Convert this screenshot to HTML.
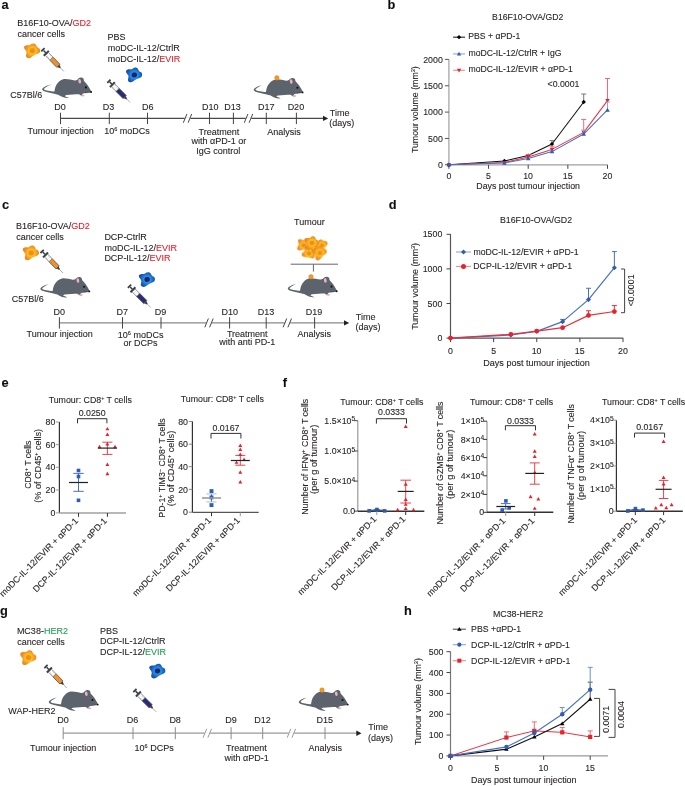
<!DOCTYPE html>
<html><head><meta charset="utf-8"><style>
html,body{margin:0;padding:0;background:#fff;}
svg{display:block;font-family:"Liberation Sans",sans-serif;}
</style></head><body>
<svg width="685" height="786" viewBox="0 0 685 786">
<rect width="685" height="786" fill="#fff"/>

<defs>
<radialGradient id="gOr" gradientUnits="userSpaceOnUse" cx="0" cy="0" r="8.4">
  <stop offset="0" stop-color="#f9c914"/>
  <stop offset="0.42" stop-color="#f8c116"/>
  <stop offset="0.62" stop-color="#f5a522"/>
  <stop offset="0.82" stop-color="#f08b28"/>
  <stop offset="1" stop-color="#ee8229"/>
</radialGradient>
<radialGradient id="gBl" gradientUnits="userSpaceOnUse" cx="0" cy="0" r="8.4">
  <stop offset="0" stop-color="#1e9ce0"/>
  <stop offset="0.42" stop-color="#1d92da"/>
  <stop offset="0.62" stop-color="#1f72cc"/>
  <stop offset="0.82" stop-color="#1e55bc"/>
  <stop offset="1" stop-color="#1d47b4"/>
</radialGradient>
<filter id="soft" x="-20%" y="-20%" width="140%" height="140%"><feGaussianBlur stdDeviation="0.3"/></filter>
<symbol id="mouse" overflow="visible">
  <path d="M0,0 C-1,-2 -3,-6 -5.5,-8.8 C-6.5,-10 -7.4,-10.8 -7.7,-11.3 C-7.6,-13.5 -9,-14.7 -10.7,-14.5 C-12.5,-14.3 -13.5,-13.6 -13.9,-12.6 C-15,-11.8 -16,-11.5 -17,-11.6 C-20,-12.2 -24,-13.3 -27.5,-13 C-32,-12.5 -36.2,-7.5 -36.9,-2 L-37.2,-0.4 C-41,-0.7 -46,-1.3 -47.7,-2.7 C-47.4,-3.9 -44,-6.1 -40,-7.7 C-44.2,-6.6 -49.6,-4.6 -49.4,-2.4 C-49.1,-0.4 -42,0.9 -36.3,2.1 C-35,2.4 -34,2.7 -33,2.9 C-31.5,3.6 -30,4.6 -28.8,5.1 C-27,5.7 -24.5,6.2 -22.5,6.1 C-24,5.3 -26,4.6 -26.8,4.2 C-26.2,3.6 -25.5,3.2 -25.2,3.1 C-21,2.7 -16,2.4 -12.5,2.3 C-11.5,3.1 -10.5,3.9 -9.5,3.6 C-9.5,2.6 -9,1.9 -8.5,1.6 C-6,1.1 -3,0.6 0,0 Z" fill="#5b636d"/>
  <ellipse cx="-11.9" cy="-10.8" rx="1.35" ry="2.3" fill="#f0b2bc" transform="rotate(-10 -11.9 -10.8)"/>
  <circle cx="-5.7" cy="-4.6" r="1.05" fill="#111"/>
  <circle cx="-0.5" cy="0" r="0.95" fill="#111"/>
  <path d="M-6.5,0.8 L-1,0.25" stroke="#2a2e33" stroke-width="0.5"/>
  <ellipse cx="-8.9" cy="3.6" rx="1.8" ry="0.9" fill="#f3a3b2"/>
</symbol>
<symbol id="syr" overflow="visible">
  <rect x="-0.9" y="-2.3" width="1.8" height="4.6" fill="#3a4246"/>
  <rect x="0.9" y="-0.75" width="3.2" height="1.5" fill="#3a4246"/>
  <rect x="3.9" y="-3.5" width="2" height="7" fill="#3a4246"/>
  <rect x="5.9" y="-2.15" width="16.4" height="4.3" fill="#fff" stroke="#4a4f53" stroke-width="0.55"/>
  <path d="M7.8,-2.1v1.3M9.6,-2.1v1.3M11.4,-2.1v1.3M7.8,2.1v-1.3M9.6,2.1v-1.3M11.4,2.1v-1.3" stroke="#8a8a8a" stroke-width="0.45"/>
  <rect x="12.3" y="-2.15" width="10" height="4.3" fill="var(--liq)" stroke="#4a4f53" stroke-width="0.55"/>
  <path d="M22.3,-1.5 L25.2,-0.55 L25.2,0.55 L22.3,1.5 Z" fill="#3a4246"/>
  <line x1="25.2" y1="0" x2="30.1" y2="0" stroke="#6c7176" stroke-width="0.55"/>
</symbol>
<symbol id="cell" overflow="visible">
  <path d="M-8.4,-3.8 C-8.2,-5.6 -5.5,-5.8 -3.5,-5.6 C-2.5,-5.6 -1.8,-6.2 -1.2,-6.8 C0,-7.8 3.2,-7.6 3.8,-5.6 C4.2,-4.4 5,-3.4 6.2,-3 C8,-2.4 8.4,1 6.6,2.2 C5.4,3 4,3.2 2.8,3.8 C1.2,4.6 0,5.6 -1.4,6.6 C-3,7.8 -6.2,7.6 -6.4,5.2 C-6.5,3.6 -5.6,2.4 -6,0.8 C-6.4,-0.6 -8.6,-1.8 -8.4,-3.8 Z" fill="var(--g)"/>
  <path d="M-2.4,-0.3 C-2.4,-2 -0.8,-2.4 0.6,-2.2 C1.8,-2 2.5,-1 2.3,0.2 C2.1,1.5 0.8,2.2 -0.4,2.1 C-1.6,2 -2.4,1.2 -2.4,-0.3 Z" fill="var(--n)" transform="scale(1.15)"/>
</symbol>
</defs>

<filter id="gblur" x="0" y="0" width="100%" height="100%" filterUnits="userSpaceOnUse"><feGaussianBlur stdDeviation="0.35"/></filter>
<g filter="url(#gblur)">
<text x="1.42" y="9.10" font-size="12.800" fill="#111" stroke="#111" stroke-width="0.1" font-weight="bold" >a</text>
<text x="387.57" y="9.10" font-size="12.800" fill="#111" stroke="#111" stroke-width="0.1" font-weight="bold" >b</text>
<text x="1.89" y="209.20" font-size="12.800" fill="#111" stroke="#111" stroke-width="0.1" font-weight="bold" >c</text>
<text x="388.69" y="209.00" font-size="12.800" fill="#111" stroke="#111" stroke-width="0.1" font-weight="bold" >d</text>
<text x="1.49" y="386.80" font-size="12.800" fill="#111" stroke="#111" stroke-width="0.1" font-weight="bold" >e</text>
<text x="282.81" y="387.00" font-size="12.800" fill="#111" stroke="#111" stroke-width="0.1" font-weight="bold" >f</text>
<text x="0.09" y="615.00" font-size="12.800" fill="#111" stroke="#111" stroke-width="0.1" font-weight="bold" >g</text>
<text x="403.90" y="614.60" font-size="12.800" fill="#111" stroke="#111" stroke-width="0.1" font-weight="bold" >h</text>
<line x1="60.50" y1="118.40" x2="324.20" y2="118.40" stroke="#4a4a4a" stroke-width="1.1"/>
<path d="M328.20,118.40L323.00,115.70L323.00,121.10Z" fill="#222"/>
<line x1="60.50" y1="112.70" x2="60.50" y2="124.10" stroke="#444" stroke-width="1"/>
<text x="54.26" y="109.80" font-size="9.000" fill="#231f20" stroke="#231f20" stroke-width="0.1" >D0</text>
<line x1="109.30" y1="112.70" x2="109.30" y2="124.10" stroke="#444" stroke-width="1"/>
<text x="102.68" y="109.80" font-size="9.000" fill="#231f20" stroke="#231f20" stroke-width="0.1" >D3</text>
<line x1="147.50" y1="112.70" x2="147.50" y2="124.10" stroke="#444" stroke-width="1"/>
<text x="142.08" y="109.80" font-size="9.000" fill="#231f20" stroke="#231f20" stroke-width="0.1" >D6</text>
<line x1="209.50" y1="112.70" x2="209.50" y2="124.10" stroke="#444" stroke-width="1"/>
<text x="202.04" y="109.80" font-size="9.000" fill="#231f20" stroke="#231f20" stroke-width="0.1" >D10</text>
<line x1="233.40" y1="112.70" x2="233.40" y2="124.10" stroke="#444" stroke-width="1"/>
<text x="224.26" y="109.80" font-size="9.000" fill="#231f20" stroke="#231f20" stroke-width="0.1" >D13</text>
<line x1="266.30" y1="112.70" x2="266.30" y2="124.10" stroke="#444" stroke-width="1"/>
<text x="258.01" y="109.80" font-size="9.000" fill="#231f20" stroke="#231f20" stroke-width="0.1" >D17</text>
<line x1="296.40" y1="112.70" x2="296.40" y2="124.10" stroke="#444" stroke-width="1"/>
<text x="287.64" y="109.80" font-size="9.000" fill="#231f20" stroke="#231f20" stroke-width="0.1" >D20</text>
<rect x="184.70" y="117.40" width="5.6" height="2" fill="#fff"/>
<line x1="183.30" y1="122.80" x2="186.90" y2="114.00" stroke="#4a4a4a" stroke-width="1.0"/>
<line x1="188.10" y1="122.80" x2="191.70" y2="114.00" stroke="#4a4a4a" stroke-width="1.0"/>
<rect x="245.70" y="117.40" width="5.6" height="2" fill="#fff"/>
<line x1="244.30" y1="122.80" x2="247.90" y2="114.00" stroke="#4a4a4a" stroke-width="1.0"/>
<line x1="249.10" y1="122.80" x2="252.70" y2="114.00" stroke="#4a4a4a" stroke-width="1.0"/>
<text x="17.18" y="26.30" font-size="9.000" fill="#231f20" stroke="#231f20" stroke-width="0.1" >B16F10-OVA/<tspan fill="#e5202e" stroke="#e5202e">GD2</tspan></text>
<text x="17.54" y="36.80" font-size="9.000" fill="#231f20" stroke="#231f20" stroke-width="0.1" >cancer cells</text>
<text x="107.58" y="40.20" font-size="9.000" fill="#231f20" stroke="#231f20" stroke-width="0.1" >PBS</text>
<text x="107.72" y="51.20" font-size="9.000" fill="#231f20" stroke="#231f20" stroke-width="0.1" >moDC-IL-12/CtrlR</text>
<text x="107.72" y="61.90" font-size="9.000" fill="#231f20" stroke="#231f20" stroke-width="0.1" >moDC-IL-12/<tspan fill="#e5202e" stroke="#e5202e">EVIR</tspan></text>
<text x="10.25" y="97.90" font-size="9.000" fill="#231f20" stroke="#231f20" stroke-width="0.1" >C57Bl/6</text>
<text x="27.50" y="134.20" font-size="9.000" fill="#231f20" stroke="#231f20" stroke-width="0.1" >Tumour injection</text>
<text x="104.14" y="134.20" font-size="9.000" fill="#231f20" stroke="#231f20" stroke-width="0.1" >10<tspan font-size="5.6" baseline-shift="3.0">6</tspan> moDCs</text>
<text x="198.62" y="134.50" font-size="9.000" fill="#231f20" stroke="#231f20" stroke-width="0.1" >Treatment</text>
<text x="191.43" y="144.40" font-size="9.000" fill="#231f20" stroke="#231f20" stroke-width="0.1" >with αPD-1 or</text>
<text x="196.28" y="153.60" font-size="9.000" fill="#231f20" stroke="#231f20" stroke-width="0.1" >IgG control</text>
<text x="267.29" y="134.50" font-size="9.000" fill="#231f20" stroke="#231f20" stroke-width="0.1" >Analysis</text>
<text x="329.72" y="115.50" font-size="9.000" fill="#231f20" stroke="#231f20" stroke-width="0.1" >Time</text>
<text x="329.36" y="125.60" font-size="9.000" fill="#231f20" stroke="#231f20" stroke-width="0.1" >(days)</text>
<line x1="59.40" y1="322.90" x2="345.20" y2="322.90" stroke="#8a8a8a" stroke-width="1.3"/>
<path d="M349.20,322.90L344.00,320.20L344.00,325.60Z" fill="#222"/>
<line x1="59.40" y1="317.20" x2="59.40" y2="328.60" stroke="#444" stroke-width="1"/>
<text x="53.46" y="314.50" font-size="9.000" fill="#231f20" stroke="#231f20" stroke-width="0.1" >D0</text>
<line x1="122.50" y1="317.20" x2="122.50" y2="328.60" stroke="#444" stroke-width="1"/>
<text x="116.53" y="314.50" font-size="9.000" fill="#231f20" stroke="#231f20" stroke-width="0.1" >D7</text>
<line x1="161.00" y1="317.20" x2="161.00" y2="328.60" stroke="#444" stroke-width="1"/>
<text x="154.70" y="314.50" font-size="9.000" fill="#231f20" stroke="#231f20" stroke-width="0.1" >D9</text>
<line x1="229.60" y1="317.20" x2="229.60" y2="328.60" stroke="#444" stroke-width="1"/>
<text x="221.54" y="314.50" font-size="9.000" fill="#231f20" stroke="#231f20" stroke-width="0.1" >D10</text>
<line x1="266.20" y1="317.20" x2="266.20" y2="328.60" stroke="#444" stroke-width="1"/>
<text x="257.76" y="314.50" font-size="9.000" fill="#231f20" stroke="#231f20" stroke-width="0.1" >D13</text>
<line x1="314.60" y1="317.20" x2="314.60" y2="328.60" stroke="#444" stroke-width="1"/>
<text x="305.78" y="314.50" font-size="9.000" fill="#231f20" stroke="#231f20" stroke-width="0.1" >D19</text>
<rect x="206.20" y="321.90" width="5.6" height="2" fill="#fff"/>
<line x1="204.80" y1="327.30" x2="208.40" y2="318.50" stroke="#444" stroke-width="1.0"/>
<line x1="209.60" y1="327.30" x2="213.20" y2="318.50" stroke="#444" stroke-width="1.0"/>
<rect x="284.50" y="321.90" width="5.6" height="2" fill="#fff"/>
<line x1="283.10" y1="327.30" x2="286.70" y2="318.50" stroke="#444" stroke-width="1.0"/>
<line x1="287.90" y1="327.30" x2="291.50" y2="318.50" stroke="#444" stroke-width="1.0"/>
<text x="15.88" y="229.00" font-size="9.000" fill="#231f20" stroke="#231f20" stroke-width="0.1" >B16F10-OVA/<tspan fill="#e5202e" stroke="#e5202e">GD2</tspan></text>
<text x="16.24" y="239.50" font-size="9.000" fill="#231f20" stroke="#231f20" stroke-width="0.1" >cancer cells</text>
<text x="104.38" y="239.70" font-size="9.000" fill="#231f20" stroke="#231f20" stroke-width="0.1" >DCP-CtrlR</text>
<text x="104.52" y="250.50" font-size="9.000" fill="#231f20" stroke="#231f20" stroke-width="0.1" >moDC-IL-12/<tspan fill="#e5202e" stroke="#e5202e">EVIR</tspan></text>
<text x="104.38" y="260.90" font-size="9.000" fill="#231f20" stroke="#231f20" stroke-width="0.1" >DCP-IL-12/<tspan fill="#e5202e" stroke="#e5202e">EVIR</tspan></text>
<text x="11.85" y="301.60" font-size="9.000" fill="#231f20" stroke="#231f20" stroke-width="0.1" >C57Bl/6</text>
<text x="26.60" y="337.40" font-size="9.000" fill="#231f20" stroke="#231f20" stroke-width="0.1" >Tumour injection</text>
<text x="117.84" y="337.80" font-size="9.000" fill="#231f20" stroke="#231f20" stroke-width="0.1" >10<tspan font-size="5.6" baseline-shift="3.0">6</tspan> moDCs</text>
<text x="123.47" y="345.50" font-size="9.000" fill="#231f20" stroke="#231f20" stroke-width="0.1" >or DCPs</text>
<text x="226.92" y="337.40" font-size="9.000" fill="#231f20" stroke="#231f20" stroke-width="0.1" >Treatment</text>
<text x="219.19" y="345.30" font-size="9.000" fill="#231f20" stroke="#231f20" stroke-width="0.1" >with anti PD-1</text>
<text x="297.59" y="337.40" font-size="9.000" fill="#231f20" stroke="#231f20" stroke-width="0.1" >Analysis</text>
<text x="294.12" y="225.30" font-size="9.000" fill="#231f20" stroke="#231f20" stroke-width="0.1" >Tumour</text>
<text x="355.82" y="319.70" font-size="9.000" fill="#231f20" stroke="#231f20" stroke-width="0.1" >Time</text>
<text x="355.46" y="329.70" font-size="9.000" fill="#231f20" stroke="#231f20" stroke-width="0.1" >(days)</text>
<line x1="290.70" y1="264.20" x2="338.00" y2="264.20" stroke="#666" stroke-width="1"/>
<line x1="313.40" y1="264.20" x2="313.40" y2="271.60" stroke="#666" stroke-width="1"/>
<line x1="63.20" y1="733.20" x2="357.50" y2="733.20" stroke="#999" stroke-width="1.3"/>
<path d="M361.50,733.20L356.30,730.50L356.30,735.90Z" fill="#222"/>
<line x1="63.20" y1="727.20" x2="63.20" y2="739.20" stroke="#8a8a8a" stroke-width="1"/>
<text x="57.26" y="723.40" font-size="9.000" fill="#231f20" stroke="#231f20" stroke-width="0.1" >D0</text>
<line x1="133.00" y1="727.20" x2="133.00" y2="739.20" stroke="#8a8a8a" stroke-width="1"/>
<text x="126.68" y="723.40" font-size="9.000" fill="#231f20" stroke="#231f20" stroke-width="0.1" >D6</text>
<line x1="175.30" y1="727.20" x2="175.30" y2="739.20" stroke="#8a8a8a" stroke-width="1"/>
<text x="169.38" y="723.40" font-size="9.000" fill="#231f20" stroke="#231f20" stroke-width="0.1" >D8</text>
<line x1="231.10" y1="727.20" x2="231.10" y2="739.20" stroke="#8a8a8a" stroke-width="1"/>
<text x="225.20" y="723.40" font-size="9.000" fill="#231f20" stroke="#231f20" stroke-width="0.1" >D9</text>
<line x1="262.70" y1="727.20" x2="262.70" y2="739.20" stroke="#8a8a8a" stroke-width="1"/>
<text x="254.31" y="723.40" font-size="9.000" fill="#231f20" stroke="#231f20" stroke-width="0.1" >D12</text>
<line x1="325.00" y1="727.20" x2="325.00" y2="739.20" stroke="#8a8a8a" stroke-width="1"/>
<text x="316.56" y="723.40" font-size="9.000" fill="#231f20" stroke="#231f20" stroke-width="0.1" >D15</text>
<rect x="204.50" y="732.20" width="5.6" height="2" fill="#fff"/>
<line x1="203.10" y1="737.60" x2="206.70" y2="728.80" stroke="#999" stroke-width="1.0"/>
<line x1="207.90" y1="737.60" x2="211.50" y2="728.80" stroke="#999" stroke-width="1.0"/>
<rect x="288.60" y="732.20" width="5.6" height="2" fill="#fff"/>
<line x1="287.20" y1="737.60" x2="290.80" y2="728.80" stroke="#999" stroke-width="1.0"/>
<line x1="292.00" y1="737.60" x2="295.60" y2="728.80" stroke="#999" stroke-width="1.0"/>
<text x="16.88" y="633.70" font-size="9.000" fill="#231f20" stroke="#231f20" stroke-width="0.1" >MC38-<tspan fill="#1f9e55" stroke="#1f9e55">HER2</tspan></text>
<text x="17.24" y="644.50" font-size="9.000" fill="#231f20" stroke="#231f20" stroke-width="0.1" >cancer cells</text>
<text x="100.08" y="633.50" font-size="9.000" fill="#231f20" stroke="#231f20" stroke-width="0.1" >PBS</text>
<text x="100.08" y="644.20" font-size="9.000" fill="#231f20" stroke="#231f20" stroke-width="0.1" >DCP-IL-12/CtrlR</text>
<text x="100.08" y="654.50" font-size="9.000" fill="#231f20" stroke="#231f20" stroke-width="0.1" >DCP-IL-12/<tspan fill="#1f9e55" stroke="#1f9e55">EVIR</tspan></text>
<text x="8.26" y="713.90" font-size="9.000" fill="#231f20" stroke="#231f20" stroke-width="0.1" >WAP-HER2</text>
<text x="30.10" y="751.00" font-size="9.000" fill="#231f20" stroke="#231f20" stroke-width="0.1" >Tumour injection</text>
<text x="134.60" y="751.10" font-size="9.000" fill="#231f20" stroke="#231f20" stroke-width="0.1" >10<tspan font-size="5.6" baseline-shift="3.0">6</tspan> DCPs</text>
<text x="226.12" y="751.00" font-size="9.000" fill="#231f20" stroke="#231f20" stroke-width="0.1" >Treatment</text>
<text x="224.61" y="761.40" font-size="9.000" fill="#231f20" stroke="#231f20" stroke-width="0.1" >with αPD-1</text>
<text x="308.39" y="751.00" font-size="9.000" fill="#231f20" stroke="#231f20" stroke-width="0.1" >Analysis</text>
<text x="368.32" y="729.60" font-size="9.000" fill="#231f20" stroke="#231f20" stroke-width="0.1" >Time</text>
<text x="367.96" y="740.60" font-size="9.000" fill="#231f20" stroke="#231f20" stroke-width="0.1" >(days)</text>
<text x="492.11" y="19.90" font-size="8.681" fill="#231f20" stroke="#231f20" stroke-width="0.1" >B16F10-OVA/GD2</text>
<line x1="453.10" y1="37.20" x2="465.00" y2="37.20" stroke="#222" stroke-width="1.1"/>
<path d="M459.05,35.04L461.21,37.20L459.05,39.36L456.89,37.20Z" fill="#000"/>
<text x="468.31" y="39.00" font-size="8.660" fill="#231f20" stroke="#231f20" stroke-width="0.1" >PBS + αPD-1</text>
<line x1="453.10" y1="53.90" x2="465.00" y2="53.90" stroke="#8ea6d8" stroke-width="1.1"/>
<path d="M459.05,51.75L461.19,55.46L456.91,55.46Z" fill="#2d5db3"/>
<text x="468.44" y="55.70" font-size="8.660" fill="#231f20" stroke="#231f20" stroke-width="0.1" >moDC-IL-12/CtrlR + IgG</text>
<line x1="453.10" y1="70.30" x2="465.00" y2="70.30" stroke="#f08a8f" stroke-width="1.1"/>
<path d="M459.05,72.44L461.19,68.74L456.91,68.74Z" fill="#e5202e"/>
<text x="468.44" y="72.10" font-size="8.660" fill="#231f20" stroke="#231f20" stroke-width="0.1" >moDC-IL-12/EVIR + αPD-1</text>
<line x1="448.90" y1="59.40" x2="448.90" y2="164.80" stroke="#a0a0a0" stroke-width="1.2"/>
<line x1="448.90" y1="164.80" x2="607.40" y2="164.80" stroke="#a0a0a0" stroke-width="1.2"/>
<line x1="444.90" y1="164.80" x2="448.90" y2="164.80" stroke="#555" stroke-width="1"/>
<text x="442.80" y="167.90" font-size="8.800" text-anchor="end" fill="#231f20" stroke="#231f20" stroke-width="0.1" >0</text>
<line x1="444.90" y1="138.45" x2="448.90" y2="138.45" stroke="#555" stroke-width="1"/>
<text x="442.80" y="141.55" font-size="8.800" text-anchor="end" fill="#231f20" stroke="#231f20" stroke-width="0.1" >500</text>
<line x1="444.90" y1="112.10" x2="448.90" y2="112.10" stroke="#555" stroke-width="1"/>
<text x="442.80" y="115.20" font-size="8.800" text-anchor="end" fill="#231f20" stroke="#231f20" stroke-width="0.1" >1000</text>
<line x1="444.90" y1="85.75" x2="448.90" y2="85.75" stroke="#555" stroke-width="1"/>
<text x="442.80" y="88.85" font-size="8.800" text-anchor="end" fill="#231f20" stroke="#231f20" stroke-width="0.1" >1500</text>
<line x1="444.90" y1="59.40" x2="448.90" y2="59.40" stroke="#555" stroke-width="1"/>
<text x="442.80" y="62.50" font-size="8.800" text-anchor="end" fill="#231f20" stroke="#231f20" stroke-width="0.1" >2000</text>
<line x1="448.90" y1="164.80" x2="448.90" y2="168.80" stroke="#444" stroke-width="1"/>
<text x="446.44" y="178.60" font-size="8.800" fill="#231f20" stroke="#231f20" stroke-width="0.1" >0</text>
<line x1="488.55" y1="164.80" x2="488.55" y2="168.80" stroke="#444" stroke-width="1"/>
<text x="486.11" y="178.60" font-size="8.800" fill="#231f20" stroke="#231f20" stroke-width="0.1" >5</text>
<line x1="528.20" y1="164.80" x2="528.20" y2="168.80" stroke="#444" stroke-width="1"/>
<text x="523.14" y="178.60" font-size="8.800" fill="#231f20" stroke="#231f20" stroke-width="0.1" >10</text>
<line x1="567.85" y1="164.80" x2="567.85" y2="168.80" stroke="#444" stroke-width="1"/>
<text x="562.81" y="178.60" font-size="8.800" fill="#231f20" stroke="#231f20" stroke-width="0.1" >15</text>
<line x1="607.50" y1="164.80" x2="607.50" y2="168.80" stroke="#444" stroke-width="1"/>
<text x="602.55" y="178.60" font-size="8.800" fill="#231f20" stroke="#231f20" stroke-width="0.1" >20</text>
<line x1="551.99" y1="143.98" x2="551.99" y2="140.61" stroke="#777" stroke-width="1.0"/>
<line x1="549.49" y1="140.61" x2="554.49" y2="140.61" stroke="#777" stroke-width="1.0"/>
<line x1="583.71" y1="101.98" x2="583.71" y2="94.02" stroke="#777" stroke-width="1.0"/>
<line x1="581.21" y1="94.02" x2="586.21" y2="94.02" stroke="#777" stroke-width="1.0"/>
<polyline points="448.90,164.80 504.41,161.01 528.20,155.58 551.99,143.98 583.71,101.98" fill="none" stroke="#111" stroke-width="1.05" stroke-linejoin="round"/>
<path d="M448.90,162.64L451.06,164.80L448.90,166.96L446.74,164.80Z" fill="#000"/>
<path d="M504.41,158.85L506.57,161.01L504.41,163.17L502.25,161.01Z" fill="#000"/>
<path d="M528.20,153.42L530.36,155.58L528.20,157.74L526.04,155.58Z" fill="#000"/>
<path d="M551.99,141.82L554.15,143.98L551.99,146.14L549.83,143.98Z" fill="#000"/>
<path d="M583.71,99.82L585.87,101.98L583.71,104.14L581.55,101.98Z" fill="#000"/>
<line x1="528.20" y1="157.00" x2="528.20" y2="154.58" stroke="#f06a74" stroke-width="1.0"/>
<line x1="525.70" y1="154.58" x2="530.70" y2="154.58" stroke="#f06a74" stroke-width="1.0"/>
<line x1="551.99" y1="149.41" x2="551.99" y2="146.25" stroke="#f06a74" stroke-width="1.0"/>
<line x1="549.49" y1="146.25" x2="554.49" y2="146.25" stroke="#f06a74" stroke-width="1.0"/>
<line x1="583.71" y1="132.39" x2="583.71" y2="119.43" stroke="#f06a74" stroke-width="1.0"/>
<line x1="581.21" y1="119.43" x2="586.21" y2="119.43" stroke="#f06a74" stroke-width="1.0"/>
<line x1="607.50" y1="100.61" x2="607.50" y2="78.48" stroke="#f06a74" stroke-width="1.0"/>
<line x1="605.00" y1="78.48" x2="610.00" y2="78.48" stroke="#f06a74" stroke-width="1.0"/>
<polyline points="448.90,164.80 504.41,162.59 528.20,157.00 551.99,149.41 583.71,132.39 607.50,100.61" fill="none" stroke="#ea3340" stroke-width="1.05" stroke-linejoin="round"/>
<path d="M448.90,167.06L451.15,163.16L446.64,163.16Z" fill="#e5202e"/>
<path d="M504.41,164.84L506.66,160.95L502.15,160.95Z" fill="#e5202e"/>
<path d="M528.20,159.26L530.45,155.36L525.94,155.36Z" fill="#e5202e"/>
<path d="M551.99,151.67L554.25,147.77L549.74,147.77Z" fill="#e5202e"/>
<path d="M583.71,134.64L585.97,130.75L581.46,130.75Z" fill="#e5202e"/>
<path d="M607.50,102.87L609.75,98.97L605.25,98.97Z" fill="#e5202e"/>
<line x1="551.99" y1="151.62" x2="551.99" y2="150.57" stroke="#8fa6da" stroke-width="1.0"/>
<line x1="549.49" y1="150.57" x2="554.49" y2="150.57" stroke="#8fa6da" stroke-width="1.0"/>
<line x1="583.71" y1="134.02" x2="583.71" y2="130.02" stroke="#8fa6da" stroke-width="1.0"/>
<line x1="581.21" y1="130.02" x2="586.21" y2="130.02" stroke="#8fa6da" stroke-width="1.0"/>
<line x1="607.50" y1="109.99" x2="607.50" y2="102.09" stroke="#8fa6da" stroke-width="1.0"/>
<line x1="605.00" y1="102.09" x2="610.00" y2="102.09" stroke="#8fa6da" stroke-width="1.0"/>
<polyline points="448.90,164.80 504.41,163.01 528.20,158.58 551.99,151.62 583.71,134.02 607.50,109.99" fill="none" stroke="#4a6fc0" stroke-width="1.05" stroke-linejoin="round"/>
<path d="M448.90,162.55L451.15,166.44L446.64,166.44Z" fill="#2d5db3"/>
<path d="M504.41,160.75L506.66,164.65L502.15,164.65Z" fill="#2d5db3"/>
<path d="M528.20,156.33L530.45,160.22L525.94,160.22Z" fill="#2d5db3"/>
<path d="M551.99,149.37L554.25,153.26L549.74,153.26Z" fill="#2d5db3"/>
<path d="M583.71,131.77L585.97,135.66L581.46,135.66Z" fill="#2d5db3"/>
<path d="M607.50,107.74L609.75,111.63L605.25,111.63Z" fill="#2d5db3"/>
<text x="476.30" y="189.40" font-size="8.810" fill="#231f20" stroke="#231f20" stroke-width="0.1" >Days post tumour injection</text>
<text transform="translate(418.40,109.65) rotate(-90)" font-size="8.800" text-anchor="middle" fill="#231f20" stroke="#231f20" stroke-width="0.1" >Tumour volume (mm<tspan font-size="5.6" baseline-shift="3.4">3</tspan>)</text>
<text x="547.56" y="87.00" font-size="8.745" fill="#231f20" stroke="#231f20" stroke-width="0.1" >&lt;0.0001</text>
<text x="499.90" y="223.00" font-size="8.800" fill="#231f20" stroke="#231f20" stroke-width="0.1" >B16F10-OVA/GD2</text>
<line x1="456.00" y1="252.00" x2="471.00" y2="252.00" stroke="#8ea6d8" stroke-width="1.1"/>
<path d="M463.50,249.48L466.02,252.00L463.50,254.52L460.98,252.00Z" fill="#2d5db3"/>
<text x="473.43" y="254.60" font-size="8.720" fill="#231f20" stroke="#231f20" stroke-width="0.1" >moDC-IL-12/EVIR + αPD-1</text>
<line x1="456.00" y1="266.40" x2="471.00" y2="266.40" stroke="#f08a8f" stroke-width="1.1"/>
<circle cx="463.50" cy="266.40" r="2.50" fill="#e5202e"/>
<text x="473.30" y="269.00" font-size="8.720" fill="#231f20" stroke="#231f20" stroke-width="0.1" >DCP-IL-12/EVIR + αPD-1</text>
<line x1="450.50" y1="234.10" x2="450.50" y2="338.10" stroke="#555" stroke-width="1.2"/>
<line x1="450.50" y1="338.10" x2="623.20" y2="338.10" stroke="#555" stroke-width="1.2"/>
<line x1="446.50" y1="338.10" x2="450.50" y2="338.10" stroke="#444" stroke-width="1"/>
<text x="442.30" y="341.20" font-size="8.800" text-anchor="end" fill="#231f20" stroke="#231f20" stroke-width="0.1" >0</text>
<line x1="446.50" y1="303.50" x2="450.50" y2="303.50" stroke="#444" stroke-width="1"/>
<text x="442.30" y="306.60" font-size="8.800" text-anchor="end" fill="#231f20" stroke="#231f20" stroke-width="0.1" >500</text>
<line x1="446.50" y1="268.90" x2="450.50" y2="268.90" stroke="#444" stroke-width="1"/>
<text x="442.30" y="272.00" font-size="8.800" text-anchor="end" fill="#231f20" stroke="#231f20" stroke-width="0.1" >1000</text>
<line x1="446.50" y1="234.30" x2="450.50" y2="234.30" stroke="#444" stroke-width="1"/>
<text x="442.30" y="237.40" font-size="8.800" text-anchor="end" fill="#231f20" stroke="#231f20" stroke-width="0.1" >1500</text>
<line x1="450.50" y1="338.10" x2="450.50" y2="342.10" stroke="#444" stroke-width="1"/>
<text x="448.04" y="353.60" font-size="8.800" fill="#231f20" stroke="#231f20" stroke-width="0.1" >0</text>
<line x1="493.62" y1="338.10" x2="493.62" y2="342.10" stroke="#444" stroke-width="1"/>
<text x="491.18" y="353.60" font-size="8.800" fill="#231f20" stroke="#231f20" stroke-width="0.1" >5</text>
<line x1="536.75" y1="338.10" x2="536.75" y2="342.10" stroke="#444" stroke-width="1"/>
<text x="531.69" y="353.60" font-size="8.800" fill="#231f20" stroke="#231f20" stroke-width="0.1" >10</text>
<line x1="579.88" y1="338.10" x2="579.88" y2="342.10" stroke="#444" stroke-width="1"/>
<text x="574.84" y="353.60" font-size="8.800" fill="#231f20" stroke="#231f20" stroke-width="0.1" >15</text>
<line x1="623.00" y1="338.10" x2="623.00" y2="342.10" stroke="#444" stroke-width="1"/>
<text x="618.05" y="353.60" font-size="8.800" fill="#231f20" stroke="#231f20" stroke-width="0.1" >20</text>
<line x1="562.62" y1="321.63" x2="562.62" y2="319.42" stroke="#4a6fc0" stroke-width="1.0"/>
<line x1="560.12" y1="319.42" x2="565.12" y2="319.42" stroke="#4a6fc0" stroke-width="1.0"/>
<line x1="588.50" y1="299.62" x2="588.50" y2="288.28" stroke="#4a6fc0" stroke-width="1.0"/>
<line x1="586.00" y1="288.28" x2="591.00" y2="288.28" stroke="#4a6fc0" stroke-width="1.0"/>
<line x1="614.38" y1="267.72" x2="614.38" y2="251.60" stroke="#4a6fc0" stroke-width="1.0"/>
<line x1="611.88" y1="251.60" x2="616.88" y2="251.60" stroke="#4a6fc0" stroke-width="1.0"/>
<polyline points="450.50,338.10 510.88,334.99 536.75,331.32 562.62,321.63 588.50,299.62 614.38,267.72" fill="none" stroke="#4a6fc0" stroke-width="1.2" stroke-linejoin="round"/>
<path d="M450.50,335.58L453.02,338.10L450.50,340.62L447.98,338.10Z" fill="#2d5db3"/>
<path d="M510.88,332.47L513.39,334.99L510.88,337.51L508.36,334.99Z" fill="#2d5db3"/>
<path d="M536.75,328.80L539.27,331.32L536.75,333.84L534.23,331.32Z" fill="#2d5db3"/>
<path d="M562.62,319.11L565.14,321.63L562.62,324.15L560.11,321.63Z" fill="#2d5db3"/>
<path d="M588.50,297.10L591.02,299.62L588.50,302.14L585.98,299.62Z" fill="#2d5db3"/>
<path d="M614.38,265.20L616.89,267.72L614.38,270.24L611.86,267.72Z" fill="#2d5db3"/>
<line x1="588.50" y1="315.40" x2="588.50" y2="310.77" stroke="#e8303a" stroke-width="1.0"/>
<line x1="586.00" y1="310.77" x2="591.00" y2="310.77" stroke="#e8303a" stroke-width="1.0"/>
<line x1="614.38" y1="311.53" x2="614.38" y2="305.58" stroke="#e8303a" stroke-width="1.0"/>
<line x1="611.88" y1="305.58" x2="616.88" y2="305.58" stroke="#e8303a" stroke-width="1.0"/>
<polyline points="450.50,338.10 510.88,334.29 536.75,331.04 562.62,327.72 588.50,315.40 614.38,311.53" fill="none" stroke="#e8303a" stroke-width="1.2" stroke-linejoin="round"/>
<circle cx="450.50" cy="338.10" r="2.40" fill="#e5202e"/>
<circle cx="510.88" cy="334.29" r="2.40" fill="#e5202e"/>
<circle cx="536.75" cy="331.04" r="2.40" fill="#e5202e"/>
<circle cx="562.62" cy="327.72" r="2.40" fill="#e5202e"/>
<circle cx="588.50" cy="315.40" r="2.40" fill="#e5202e"/>
<circle cx="614.38" cy="311.53" r="2.40" fill="#e5202e"/>
<text x="483.28" y="366.20" font-size="9.050" fill="#231f20" stroke="#231f20" stroke-width="0.1" >Days post tumour injection</text>
<text transform="translate(418.00,286.40) rotate(-90)" font-size="8.800" text-anchor="middle" fill="#231f20" stroke="#231f20" stroke-width="0.1" >Tumour volume (mm<tspan font-size="5.6" baseline-shift="3.4">3</tspan>)</text>
<polyline points="621,269 624.6,269 624.6,312.7 621,312.7" fill="none" stroke="#444" stroke-width="1"/>
<text transform="translate(634.40,290.50) rotate(-90)" font-size="8.800" text-anchor="middle" fill="#231f20" stroke="#231f20" stroke-width="0.1" >&lt;0.0001</text>
<text x="492.89" y="616.60" font-size="8.871" fill="#231f20" stroke="#231f20" stroke-width="0.1" >MC38-HER2</text>
<line x1="452.80" y1="629.20" x2="465.90" y2="629.20" stroke="#555" stroke-width="1.1"/>
<path d="M459.35,627.00L461.55,630.80L457.15,630.80Z" fill="#000"/>
<text x="471.10" y="632.30" font-size="8.750" fill="#231f20" stroke="#231f20" stroke-width="0.1" >PBS +αPD-1</text>
<line x1="452.80" y1="644.70" x2="465.90" y2="644.70" stroke="#8ea6d8" stroke-width="1.1"/>
<circle cx="459.35" cy="644.70" r="2.10" fill="#2d5db3"/>
<text x="471.10" y="647.80" font-size="8.750" fill="#231f20" stroke="#231f20" stroke-width="0.1" >DCP-IL-12/CtrlR + αPD-1</text>
<line x1="452.80" y1="660.70" x2="465.90" y2="660.70" stroke="#f08a8f" stroke-width="1.1"/>
<rect x="457.35" y="658.70" width="4.00" height="4.00" fill="#e5202e"/>
<text x="471.10" y="663.80" font-size="8.750" fill="#231f20" stroke="#231f20" stroke-width="0.1" >DCP-IL-12/EVIR + αPD-1</text>
<line x1="450.50" y1="651.60" x2="450.50" y2="755.90" stroke="#777" stroke-width="1.2"/>
<line x1="450.50" y1="755.90" x2="608.00" y2="755.90" stroke="#999" stroke-width="1.2"/>
<line x1="446.50" y1="755.90" x2="450.50" y2="755.90" stroke="#444" stroke-width="1"/>
<text x="443.50" y="759.00" font-size="8.800" text-anchor="end" fill="#231f20" stroke="#231f20" stroke-width="0.1" >0</text>
<line x1="446.50" y1="735.06" x2="450.50" y2="735.06" stroke="#444" stroke-width="1"/>
<text x="443.50" y="738.16" font-size="8.800" text-anchor="end" fill="#231f20" stroke="#231f20" stroke-width="0.1" >100</text>
<line x1="446.50" y1="714.22" x2="450.50" y2="714.22" stroke="#444" stroke-width="1"/>
<text x="443.50" y="717.32" font-size="8.800" text-anchor="end" fill="#231f20" stroke="#231f20" stroke-width="0.1" >200</text>
<line x1="446.50" y1="693.38" x2="450.50" y2="693.38" stroke="#444" stroke-width="1"/>
<text x="443.50" y="696.48" font-size="8.800" text-anchor="end" fill="#231f20" stroke="#231f20" stroke-width="0.1" >300</text>
<line x1="446.50" y1="672.54" x2="450.50" y2="672.54" stroke="#444" stroke-width="1"/>
<text x="443.50" y="675.64" font-size="8.800" text-anchor="end" fill="#231f20" stroke="#231f20" stroke-width="0.1" >400</text>
<line x1="446.50" y1="651.70" x2="450.50" y2="651.70" stroke="#444" stroke-width="1"/>
<text x="443.50" y="654.80" font-size="8.800" text-anchor="end" fill="#231f20" stroke="#231f20" stroke-width="0.1" >500</text>
<line x1="450.50" y1="755.90" x2="450.50" y2="759.90" stroke="#444" stroke-width="1"/>
<text x="448.04" y="770.60" font-size="8.800" fill="#231f20" stroke="#231f20" stroke-width="0.1" >0</text>
<line x1="497.06" y1="755.90" x2="497.06" y2="759.90" stroke="#444" stroke-width="1"/>
<text x="494.62" y="770.60" font-size="8.800" fill="#231f20" stroke="#231f20" stroke-width="0.1" >5</text>
<line x1="543.63" y1="755.90" x2="543.63" y2="759.90" stroke="#444" stroke-width="1"/>
<text x="538.57" y="770.60" font-size="8.800" fill="#231f20" stroke="#231f20" stroke-width="0.1" >10</text>
<line x1="590.20" y1="755.90" x2="590.20" y2="759.90" stroke="#444" stroke-width="1"/>
<text x="585.16" y="770.60" font-size="8.800" fill="#231f20" stroke="#231f20" stroke-width="0.1" >15</text>
<line x1="506.38" y1="737.56" x2="506.38" y2="731.93" stroke="#f06a74" stroke-width="1.0"/>
<line x1="503.88" y1="731.93" x2="508.88" y2="731.93" stroke="#f06a74" stroke-width="1.0"/>
<line x1="534.32" y1="730.89" x2="534.32" y2="721.93" stroke="#f06a74" stroke-width="1.0"/>
<line x1="531.82" y1="721.93" x2="536.82" y2="721.93" stroke="#f06a74" stroke-width="1.0"/>
<line x1="562.26" y1="732.35" x2="562.26" y2="727.56" stroke="#f06a74" stroke-width="1.0"/>
<line x1="559.76" y1="727.56" x2="564.76" y2="727.56" stroke="#f06a74" stroke-width="1.0"/>
<line x1="590.20" y1="736.94" x2="590.20" y2="730.89" stroke="#f06a74" stroke-width="1.0"/>
<line x1="587.70" y1="730.89" x2="592.70" y2="730.89" stroke="#f06a74" stroke-width="1.0"/>
<polyline points="450.50,755.90 506.38,737.56 534.32,730.89 562.26,732.35 590.20,736.94" fill="none" stroke="#ea3340" stroke-width="1.0" stroke-linejoin="round"/>
<rect x="448.40" y="753.80" width="4.20" height="4.20" fill="#e5202e"/>
<rect x="504.28" y="735.46" width="4.20" height="4.20" fill="#e5202e"/>
<rect x="532.22" y="728.79" width="4.20" height="4.20" fill="#e5202e"/>
<rect x="560.16" y="730.25" width="4.20" height="4.20" fill="#e5202e"/>
<rect x="588.10" y="734.84" width="4.20" height="4.20" fill="#e5202e"/>
<line x1="590.20" y1="699.22" x2="590.20" y2="682.13" stroke="#555" stroke-width="1.0"/>
<line x1="587.70" y1="682.13" x2="592.70" y2="682.13" stroke="#555" stroke-width="1.0"/>
<polyline points="450.50,755.90 506.38,749.23 534.32,736.94 562.26,723.60 590.20,699.22" fill="none" stroke="#111" stroke-width="1.1" stroke-linejoin="round"/>
<path d="M450.50,753.70L452.70,757.50L448.30,757.50Z" fill="#000"/>
<path d="M506.38,747.03L508.58,750.83L504.18,750.83Z" fill="#000"/>
<path d="M534.32,734.74L536.52,738.54L532.12,738.54Z" fill="#000"/>
<path d="M562.26,721.40L564.46,725.20L560.06,725.20Z" fill="#000"/>
<path d="M590.20,697.02L592.40,700.82L588.00,700.82Z" fill="#000"/>
<line x1="562.26" y1="714.22" x2="562.26" y2="707.55" stroke="#6f8ed0" stroke-width="1.0"/>
<line x1="559.76" y1="707.55" x2="564.76" y2="707.55" stroke="#6f8ed0" stroke-width="1.0"/>
<line x1="590.20" y1="689.63" x2="590.20" y2="667.33" stroke="#6f8ed0" stroke-width="1.0"/>
<line x1="587.70" y1="667.33" x2="592.70" y2="667.33" stroke="#6f8ed0" stroke-width="1.0"/>
<polyline points="450.50,755.90 506.38,746.94 534.32,732.98 562.26,714.22 590.20,689.63" fill="none" stroke="#4a6fc0" stroke-width="1.1" stroke-linejoin="round"/>
<circle cx="450.50" cy="755.90" r="2.20" fill="#2d5db3"/>
<circle cx="506.38" cy="746.94" r="2.20" fill="#2d5db3"/>
<circle cx="534.32" cy="732.98" r="2.20" fill="#2d5db3"/>
<circle cx="562.26" cy="714.22" r="2.20" fill="#2d5db3"/>
<circle cx="590.20" cy="689.63" r="2.20" fill="#2d5db3"/>
<text x="471.08" y="783.30" font-size="8.964" fill="#231f20" stroke="#231f20" stroke-width="0.1" >Days post tumour injection</text>
<text transform="translate(421.00,701.50) rotate(-90)" font-size="8.800" text-anchor="middle" fill="#231f20" stroke="#231f20" stroke-width="0.1" >Tumour volume (mm<tspan font-size="5.6" baseline-shift="3.4">3</tspan>)</text>
<polyline points="594,698.4 599.6,698.4 599.6,736.4 594,736.4" fill="none" stroke="#444" stroke-width="1"/>
<text transform="translate(609.20,719.30) rotate(-90)" font-size="8.800" text-anchor="middle" fill="#231f20" stroke="#231f20" stroke-width="0.1" >0.0071</text>
<polyline points="608.6,689.4 615,689.4 615,737.4 608.6,737.4" fill="none" stroke="#444" stroke-width="1"/>
<text transform="translate(624.00,714.50) rotate(-90)" font-size="8.800" text-anchor="middle" fill="#231f20" stroke="#231f20" stroke-width="0.1" >0.0004</text>
<line x1="59.40" y1="421.90" x2="59.40" y2="513.00" stroke="#333" stroke-width="1.2"/>
<line x1="59.40" y1="513.00" x2="126.00" y2="513.00" stroke="#a0a0a0" stroke-width="1.4"/>
<line x1="55.80" y1="422.00" x2="59.40" y2="422.00" stroke="#999" stroke-width="1"/>
<text x="55.30" y="425.10" font-size="8.800" text-anchor="end" fill="#231f20" stroke="#231f20" stroke-width="0.1" >80</text>
<line x1="55.80" y1="444.60" x2="59.40" y2="444.60" stroke="#999" stroke-width="1"/>
<text x="55.30" y="447.70" font-size="8.800" text-anchor="end" fill="#231f20" stroke="#231f20" stroke-width="0.1" >60</text>
<line x1="55.80" y1="467.30" x2="59.40" y2="467.30" stroke="#999" stroke-width="1"/>
<text x="55.30" y="470.40" font-size="8.800" text-anchor="end" fill="#231f20" stroke="#231f20" stroke-width="0.1" >40</text>
<line x1="55.80" y1="490.00" x2="59.40" y2="490.00" stroke="#999" stroke-width="1"/>
<text x="55.30" y="493.10" font-size="8.800" text-anchor="end" fill="#231f20" stroke="#231f20" stroke-width="0.1" >20</text>
<line x1="55.80" y1="512.90" x2="59.40" y2="512.90" stroke="#999" stroke-width="1"/>
<text x="55.30" y="516.00" font-size="8.800" text-anchor="end" fill="#231f20" stroke="#231f20" stroke-width="0.1" >0</text>
<line x1="78.50" y1="513.00" x2="78.50" y2="516.80" stroke="#333" stroke-width="1"/>
<line x1="107.40" y1="513.00" x2="107.40" y2="516.80" stroke="#333" stroke-width="1"/>
<text transform="translate(78.70,521.60) rotate(-45)" font-size="8.900" text-anchor="end" fill="#231f20" stroke="#231f20" stroke-width="0.1" >moDC-IL-12/EVIR + αPD-1</text>
<text transform="translate(107.60,521.60) rotate(-45)" font-size="8.900" text-anchor="end" fill="#231f20" stroke="#231f20" stroke-width="0.1" >DCP-IL-12/EVIR + αPD-1</text>
<line x1="78.50" y1="473.40" x2="78.50" y2="491.30" stroke="#4a6fc0" stroke-width="1"/>
<line x1="73.30" y1="473.40" x2="83.70" y2="473.40" stroke="#4a6fc0" stroke-width="1"/>
<line x1="73.30" y1="491.30" x2="83.70" y2="491.30" stroke="#4a6fc0" stroke-width="1"/>
<rect x="76.70" y="468.70" width="3.60" height="3.60" fill="#2d5db3"/>
<rect x="76.70" y="474.70" width="3.60" height="3.60" fill="#2d5db3"/>
<rect x="76.70" y="498.50" width="3.60" height="3.60" fill="#2d5db3"/>
<line x1="69.00" y1="482.50" x2="88.00" y2="482.50" stroke="#222" stroke-width="1.2"/>
<line x1="107.40" y1="442.20" x2="107.40" y2="454.40" stroke="#ec4048" stroke-width="1"/>
<line x1="102.40" y1="442.20" x2="112.40" y2="442.20" stroke="#ec4048" stroke-width="1"/>
<line x1="102.40" y1="454.40" x2="112.40" y2="454.40" stroke="#ec4048" stroke-width="1"/>
<path d="M107.40,426.92L109.38,430.34L105.42,430.34Z" fill="#e5202e"/>
<path d="M107.40,432.52L109.38,435.94L105.42,435.94Z" fill="#e5202e"/>
<path d="M107.40,442.02L109.38,445.44L105.42,445.44Z" fill="#e5202e"/>
<path d="M99.50,444.72L101.48,448.14L97.52,448.14Z" fill="#e5202e"/>
<path d="M115.00,444.72L116.98,448.14L113.02,448.14Z" fill="#e5202e"/>
<path d="M107.40,462.62L109.38,466.04L105.42,466.04Z" fill="#e5202e"/>
<path d="M107.40,471.72L109.38,475.14L105.42,475.14Z" fill="#e5202e"/>
<line x1="97.90" y1="448.10" x2="116.90" y2="448.10" stroke="#222" stroke-width="1.2"/>
<polyline points="77.50,423.30 77.50,418.70 106.90,418.70 106.90,423.30" fill="none" stroke="#333" stroke-width="1"/>
<text x="78.71" y="415.60" font-size="8.800" fill="#231f20" stroke="#231f20" stroke-width="0.1" >0.0250</text>
<text x="48.67" y="402.70" font-size="8.800" fill="#231f20" stroke="#231f20" stroke-width="0.1" >Tumour: CD8<tspan font-size="5.4" baseline-shift="3.4">+</tspan> T cells</text>
<text transform="translate(30.60,464.70) rotate(-90)" font-size="8.800" text-anchor="middle" fill="#231f20" stroke="#231f20" stroke-width="0.1" >CD8<tspan font-size="5.4" baseline-shift="3.4">+</tspan> T cells</text>
<text transform="translate(40.90,465.80) rotate(-90)" font-size="9.100" text-anchor="middle" fill="#231f20" stroke="#231f20" stroke-width="0.1" >(% of CD45<tspan font-size="5.4" baseline-shift="3.4">+</tspan> cells)</text>
<line x1="192.40" y1="421.20" x2="192.40" y2="512.40" stroke="#333" stroke-width="1.2"/>
<line x1="192.40" y1="512.40" x2="258.70" y2="512.40" stroke="#555" stroke-width="1.4"/>
<line x1="188.80" y1="421.50" x2="192.40" y2="421.50" stroke="#888" stroke-width="1"/>
<text x="188.00" y="424.60" font-size="8.800" text-anchor="end" fill="#231f20" stroke="#231f20" stroke-width="0.1" >80</text>
<line x1="188.80" y1="444.20" x2="192.40" y2="444.20" stroke="#888" stroke-width="1"/>
<text x="188.00" y="447.30" font-size="8.800" text-anchor="end" fill="#231f20" stroke="#231f20" stroke-width="0.1" >60</text>
<line x1="188.80" y1="466.70" x2="192.40" y2="466.70" stroke="#888" stroke-width="1"/>
<text x="188.00" y="469.80" font-size="8.800" text-anchor="end" fill="#231f20" stroke="#231f20" stroke-width="0.1" >40</text>
<line x1="188.80" y1="489.40" x2="192.40" y2="489.40" stroke="#888" stroke-width="1"/>
<text x="188.00" y="492.50" font-size="8.800" text-anchor="end" fill="#231f20" stroke="#231f20" stroke-width="0.1" >20</text>
<line x1="188.80" y1="512.20" x2="192.40" y2="512.20" stroke="#888" stroke-width="1"/>
<text x="188.00" y="515.30" font-size="8.800" text-anchor="end" fill="#231f20" stroke="#231f20" stroke-width="0.1" >0</text>
<line x1="211.50" y1="512.40" x2="211.50" y2="516.20" stroke="#333" stroke-width="1"/>
<line x1="240.30" y1="512.40" x2="240.30" y2="516.20" stroke="#999" stroke-width="1"/>
<text transform="translate(211.70,521.00) rotate(-45)" font-size="8.900" text-anchor="end" fill="#231f20" stroke="#231f20" stroke-width="0.1" >moDC-IL-12/EVIR + αPD-1</text>
<text transform="translate(240.50,521.00) rotate(-45)" font-size="8.900" text-anchor="end" fill="#231f20" stroke="#231f20" stroke-width="0.1" >DCP-IL-12/EVIR + αPD-1</text>
<line x1="211.50" y1="493.90" x2="211.50" y2="501.90" stroke="#4a6fc0" stroke-width="1"/>
<line x1="206.40" y1="493.90" x2="216.60" y2="493.90" stroke="#a8bce6" stroke-width="1"/>
<line x1="206.40" y1="501.90" x2="216.60" y2="501.90" stroke="#a8bce6" stroke-width="1"/>
<rect x="209.55" y="489.15" width="3.90" height="3.90" fill="#2d5db3"/>
<rect x="209.55" y="495.45" width="3.90" height="3.90" fill="#2d5db3"/>
<rect x="209.55" y="503.15" width="3.90" height="3.90" fill="#2d5db3"/>
<line x1="202.00" y1="498.00" x2="221.00" y2="498.00" stroke="#9a9a9a" stroke-width="1.6"/>
<line x1="240.30" y1="455.40" x2="240.30" y2="465.20" stroke="#ec4048" stroke-width="1"/>
<line x1="235.30" y1="455.40" x2="245.30" y2="455.40" stroke="#ec4048" stroke-width="1"/>
<line x1="235.30" y1="465.20" x2="245.30" y2="465.20" stroke="#ec4048" stroke-width="1"/>
<path d="M240.30,443.52L242.28,446.94L238.32,446.94Z" fill="#e5202e"/>
<path d="M240.30,447.52L242.28,450.94L238.32,450.94Z" fill="#e5202e"/>
<path d="M240.30,452.62L242.28,456.04L238.32,456.04Z" fill="#e5202e"/>
<path d="M236.50,460.42L238.48,463.84L234.52,463.84Z" fill="#e5202e"/>
<path d="M244.10,457.52L246.08,460.94L242.12,460.94Z" fill="#e5202e"/>
<path d="M240.30,470.22L242.28,473.64L238.32,473.64Z" fill="#e5202e"/>
<path d="M240.30,480.12L242.28,483.54L238.32,483.54Z" fill="#e5202e"/>
<line x1="230.80" y1="460.50" x2="249.80" y2="460.50" stroke="#222" stroke-width="1.2"/>
<polyline points="211.00,438.50 211.00,433.40 240.90,433.40 240.90,438.50" fill="none" stroke="#333" stroke-width="1"/>
<text x="212.53" y="430.60" font-size="8.800" fill="#231f20" stroke="#231f20" stroke-width="0.1" >0.0167</text>
<text x="180.77" y="402.20" font-size="8.800" fill="#231f20" stroke="#231f20" stroke-width="0.1" >Tumour: CD8<tspan font-size="5.4" baseline-shift="3.4">+</tspan> T cells</text>
<text transform="translate(164.50,468.00) rotate(-90)" font-size="8.800" text-anchor="middle" fill="#231f20" stroke="#231f20" stroke-width="0.1" >PD-1<tspan font-size="5.4" baseline-shift="3.4">+</tspan> TIM3<tspan font-size="5.4" baseline-shift="3.4">−</tspan> CD8<tspan font-size="5.4" baseline-shift="3.4">+</tspan> T cells</text>
<text transform="translate(173.80,468.40) rotate(-90)" font-size="9.300" text-anchor="middle" fill="#231f20" stroke="#231f20" stroke-width="0.1" >(% of CD45<tspan font-size="5.4" baseline-shift="3.4">+</tspan> cells)</text>
<line x1="357.80" y1="420.70" x2="357.80" y2="511.20" stroke="#999" stroke-width="1.2"/>
<line x1="357.80" y1="511.20" x2="424.30" y2="511.20" stroke="#333" stroke-width="1.4"/>
<line x1="354.20" y1="420.70" x2="357.80" y2="420.70" stroke="#444" stroke-width="1"/>
<text x="355.20" y="423.80" font-size="8.800" text-anchor="end" fill="#231f20" stroke="#231f20" stroke-width="0.1" >1.5×10<tspan dy="-2.6" font-size="6.6">5</tspan></text>
<line x1="354.20" y1="451.00" x2="357.80" y2="451.00" stroke="#444" stroke-width="1"/>
<text x="355.20" y="454.10" font-size="8.800" text-anchor="end" fill="#231f20" stroke="#231f20" stroke-width="0.1" >1.0×10<tspan dy="-2.6" font-size="6.6">5</tspan></text>
<line x1="354.20" y1="481.10" x2="357.80" y2="481.10" stroke="#444" stroke-width="1"/>
<text x="355.20" y="484.20" font-size="8.800" text-anchor="end" fill="#231f20" stroke="#231f20" stroke-width="0.1" >5.0×10<tspan dy="-2.6" font-size="6.6">4</tspan></text>
<line x1="354.20" y1="511.10" x2="357.80" y2="511.10" stroke="#444" stroke-width="1"/>
<text x="355.20" y="514.20" font-size="8.800" text-anchor="end" fill="#231f20" stroke="#231f20" stroke-width="0.1" >0.0</text>
<line x1="376.80" y1="511.20" x2="376.80" y2="515.00" stroke="#999" stroke-width="1"/>
<line x1="405.70" y1="511.20" x2="405.70" y2="515.00" stroke="#333" stroke-width="1"/>
<text transform="translate(377.00,519.80) rotate(-45)" font-size="8.900" text-anchor="end" fill="#231f20" stroke="#231f20" stroke-width="0.1" >moDC-IL-12/EVIR + αPD-1</text>
<text transform="translate(405.90,519.80) rotate(-45)" font-size="8.900" text-anchor="end" fill="#231f20" stroke="#231f20" stroke-width="0.1" >DCP-IL-12/EVIR + αPD-1</text>
<line x1="376.80" y1="509.60" x2="376.80" y2="510.80" stroke="#4a6fc0" stroke-width="1"/>
<line x1="373.80" y1="509.60" x2="379.80" y2="509.60" stroke="#4a6fc0" stroke-width="1"/>
<line x1="373.80" y1="510.80" x2="379.80" y2="510.80" stroke="#4a6fc0" stroke-width="1"/>
<rect x="367.30" y="509.10" width="3.60" height="3.60" fill="#2d5db3"/>
<rect x="375.10" y="507.70" width="3.60" height="3.60" fill="#2d5db3"/>
<rect x="382.90" y="509.10" width="3.60" height="3.60" fill="#2d5db3"/>
<line x1="368.80" y1="510.20" x2="384.80" y2="510.20" stroke="#2d4f9a" stroke-width="1.2"/>
<line x1="405.70" y1="480.20" x2="405.70" y2="503.00" stroke="#ec4048" stroke-width="1"/>
<line x1="400.40" y1="480.20" x2="411.00" y2="480.20" stroke="#ec4048" stroke-width="1"/>
<line x1="400.40" y1="503.00" x2="411.00" y2="503.00" stroke="#ec4048" stroke-width="1"/>
<path d="M405.70,424.52L407.68,427.94L403.72,427.94Z" fill="#e5202e"/>
<path d="M405.70,482.22L407.68,485.64L403.72,485.64Z" fill="#e5202e"/>
<path d="M405.70,497.52L407.68,500.94L403.72,500.94Z" fill="#e5202e"/>
<path d="M405.70,502.42L407.68,505.84L403.72,505.84Z" fill="#e5202e"/>
<path d="M397.70,507.82L399.68,511.24L395.72,511.24Z" fill="#e5202e"/>
<path d="M405.70,506.62L407.68,510.04L403.72,510.04Z" fill="#e5202e"/>
<path d="M413.50,507.82L415.48,511.24L411.52,511.24Z" fill="#e5202e"/>
<line x1="397.70" y1="491.40" x2="413.70" y2="491.40" stroke="#222" stroke-width="1.2"/>
<polyline points="376.40,423.60 376.40,418.70 406.50,418.70 406.50,423.60" fill="none" stroke="#333" stroke-width="1"/>
<text x="377.99" y="415.40" font-size="8.800" fill="#231f20" stroke="#231f20" stroke-width="0.1" >0.0333</text>
<text x="340.27" y="404.50" font-size="8.800" fill="#231f20" stroke="#231f20" stroke-width="0.1" >Tumour: CD8<tspan font-size="5.4" baseline-shift="3.4">+</tspan> T cells</text>
<text transform="translate(307.90,456.80) rotate(-90)" font-size="8.800" text-anchor="middle" fill="#231f20" stroke="#231f20" stroke-width="0.1" >Number of IFNγ<tspan font-size="5.4" baseline-shift="3.4">+</tspan> CD8<tspan font-size="5.4" baseline-shift="3.4">+</tspan> T cells</text>
<text transform="translate(317.20,459.30) rotate(-90)" font-size="9.300" text-anchor="middle" fill="#231f20" stroke="#231f20" stroke-width="0.1" >(per g of tumour)</text>
<line x1="487.00" y1="421.20" x2="487.00" y2="512.20" stroke="#999" stroke-width="1.2"/>
<line x1="487.00" y1="512.20" x2="553.30" y2="512.20" stroke="#333" stroke-width="1.4"/>
<line x1="483.40" y1="421.20" x2="487.00" y2="421.20" stroke="#333" stroke-width="1"/>
<text x="484.20" y="424.30" font-size="8.800" text-anchor="end" fill="#231f20" stroke="#231f20" stroke-width="0.1" >1×10<tspan dy="-2.6" font-size="6.6">5</tspan></text>
<line x1="483.40" y1="439.40" x2="487.00" y2="439.40" stroke="#333" stroke-width="1"/>
<text x="484.20" y="442.50" font-size="8.800" text-anchor="end" fill="#231f20" stroke="#231f20" stroke-width="0.1" >8×10<tspan dy="-2.6" font-size="6.6">4</tspan></text>
<line x1="483.40" y1="457.60" x2="487.00" y2="457.60" stroke="#333" stroke-width="1"/>
<text x="484.20" y="460.70" font-size="8.800" text-anchor="end" fill="#231f20" stroke="#231f20" stroke-width="0.1" >6×10<tspan dy="-2.6" font-size="6.6">4</tspan></text>
<line x1="483.40" y1="475.80" x2="487.00" y2="475.80" stroke="#333" stroke-width="1"/>
<text x="484.20" y="478.90" font-size="8.800" text-anchor="end" fill="#231f20" stroke="#231f20" stroke-width="0.1" >4×10<tspan dy="-2.6" font-size="6.6">4</tspan></text>
<line x1="483.40" y1="494.40" x2="487.00" y2="494.40" stroke="#333" stroke-width="1"/>
<text x="484.20" y="497.50" font-size="8.800" text-anchor="end" fill="#231f20" stroke="#231f20" stroke-width="0.1" >2×10<tspan dy="-2.6" font-size="6.6">4</tspan></text>
<line x1="483.40" y1="512.30" x2="487.00" y2="512.30" stroke="#333" stroke-width="1"/>
<text x="484.20" y="515.40" font-size="8.800" text-anchor="end" fill="#231f20" stroke="#231f20" stroke-width="0.1" >0</text>
<line x1="505.70" y1="512.20" x2="505.70" y2="516.00" stroke="#999" stroke-width="1"/>
<line x1="534.70" y1="512.20" x2="534.70" y2="516.00" stroke="#333" stroke-width="1"/>
<text transform="translate(505.90,521.40) rotate(-45)" font-size="8.900" text-anchor="end" fill="#231f20" stroke="#231f20" stroke-width="0.1" >moDC-IL-12/EVIR + αPD-1</text>
<text transform="translate(534.90,521.40) rotate(-45)" font-size="8.900" text-anchor="end" fill="#231f20" stroke="#231f20" stroke-width="0.1" >DCP-IL-12/EVIR + αPD-1</text>
<line x1="505.70" y1="503.60" x2="505.70" y2="509.00" stroke="#4a6fc0" stroke-width="1"/>
<line x1="500.90" y1="503.60" x2="510.50" y2="503.60" stroke="#4a6fc0" stroke-width="1"/>
<line x1="500.90" y1="509.00" x2="510.50" y2="509.00" stroke="#4a6fc0" stroke-width="1"/>
<rect x="504.10" y="499.10" width="3.60" height="3.60" fill="#2d5db3"/>
<rect x="507.40" y="506.00" width="3.60" height="3.60" fill="#2d5db3"/>
<rect x="500.40" y="508.40" width="3.60" height="3.60" fill="#2d5db3"/>
<line x1="496.30" y1="506.50" x2="515.10" y2="506.50" stroke="#222" stroke-width="1.2"/>
<line x1="534.70" y1="462.90" x2="534.70" y2="484.20" stroke="#ec4048" stroke-width="1"/>
<line x1="529.70" y1="462.90" x2="539.70" y2="462.90" stroke="#ec4048" stroke-width="1"/>
<line x1="529.70" y1="484.20" x2="539.70" y2="484.20" stroke="#ec4048" stroke-width="1"/>
<path d="M534.70,432.12L536.68,435.54L532.72,435.54Z" fill="#e5202e"/>
<path d="M534.70,449.32L536.68,452.74L532.72,452.74Z" fill="#e5202e"/>
<path d="M534.70,454.62L536.68,458.04L532.72,458.04Z" fill="#e5202e"/>
<path d="M534.70,470.52L536.68,473.94L532.72,473.94Z" fill="#e5202e"/>
<path d="M530.60,494.82L532.58,498.24L528.62,498.24Z" fill="#e5202e"/>
<path d="M538.30,497.12L540.28,500.54L536.32,500.54Z" fill="#e5202e"/>
<path d="M534.70,506.42L536.68,509.84L532.72,509.84Z" fill="#e5202e"/>
<line x1="525.30" y1="473.40" x2="544.10" y2="473.40" stroke="#222" stroke-width="1.2"/>
<polyline points="505.40,430.30 505.40,425.70 535.50,425.70 535.50,430.30" fill="none" stroke="#333" stroke-width="1"/>
<text x="506.99" y="423.60" font-size="8.800" fill="#231f20" stroke="#231f20" stroke-width="0.1" >0.0333</text>
<text x="469.97" y="404.50" font-size="8.800" fill="#231f20" stroke="#231f20" stroke-width="0.1" >Tumour: CD8<tspan font-size="5.4" baseline-shift="3.4">+</tspan> T cells</text>
<text transform="translate(443.40,463.00) rotate(-90)" font-size="8.800" text-anchor="middle" fill="#231f20" stroke="#231f20" stroke-width="0.1" >Number of GZMB<tspan font-size="5.4" baseline-shift="3.4">+</tspan> CD8<tspan font-size="5.4" baseline-shift="3.4">+</tspan> T cells</text>
<text transform="translate(453.30,464.30) rotate(-90)" font-size="9.300" text-anchor="middle" fill="#231f20" stroke="#231f20" stroke-width="0.1" >(per g of tumour)</text>
<line x1="616.40" y1="420.20" x2="616.40" y2="511.30" stroke="#333" stroke-width="1.2"/>
<line x1="616.40" y1="511.30" x2="682.80" y2="511.30" stroke="#333" stroke-width="1.4"/>
<line x1="612.80" y1="420.20" x2="616.40" y2="420.20" stroke="#999" stroke-width="1"/>
<text x="613.60" y="423.30" font-size="8.800" text-anchor="end" fill="#231f20" stroke="#231f20" stroke-width="0.1" >4×10<tspan dy="-2.6" font-size="6.6">5</tspan></text>
<line x1="612.80" y1="443.30" x2="616.40" y2="443.30" stroke="#999" stroke-width="1"/>
<text x="613.60" y="446.40" font-size="8.800" text-anchor="end" fill="#231f20" stroke="#231f20" stroke-width="0.1" >3×10<tspan dy="-2.6" font-size="6.6">5</tspan></text>
<line x1="612.80" y1="466.00" x2="616.40" y2="466.00" stroke="#999" stroke-width="1"/>
<text x="613.60" y="469.10" font-size="8.800" text-anchor="end" fill="#231f20" stroke="#231f20" stroke-width="0.1" >2×10<tspan dy="-2.6" font-size="6.6">5</tspan></text>
<line x1="612.80" y1="488.60" x2="616.40" y2="488.60" stroke="#999" stroke-width="1"/>
<text x="613.60" y="491.70" font-size="8.800" text-anchor="end" fill="#231f20" stroke="#231f20" stroke-width="0.1" >1×10<tspan dy="-2.6" font-size="6.6">5</tspan></text>
<line x1="612.80" y1="511.20" x2="616.40" y2="511.20" stroke="#999" stroke-width="1"/>
<text x="613.60" y="514.30" font-size="8.800" text-anchor="end" fill="#231f20" stroke="#231f20" stroke-width="0.1" >0</text>
<line x1="635.30" y1="511.30" x2="635.30" y2="515.10" stroke="#333" stroke-width="1"/>
<line x1="663.60" y1="511.30" x2="663.60" y2="515.10" stroke="#333" stroke-width="1"/>
<text transform="translate(637.70,520.70) rotate(-45)" font-size="8.900" text-anchor="end" fill="#231f20" stroke="#231f20" stroke-width="0.1" >moDC-IL-12/EVIR + αPD-1</text>
<text transform="translate(666.00,520.70) rotate(-45)" font-size="8.900" text-anchor="end" fill="#231f20" stroke="#231f20" stroke-width="0.1" >DCP-IL-12/EVIR + αPD-1</text>
<line x1="635.30" y1="509.40" x2="635.30" y2="510.60" stroke="#4a6fc0" stroke-width="1"/>
<line x1="632.30" y1="509.40" x2="638.30" y2="509.40" stroke="#4a6fc0" stroke-width="1"/>
<line x1="632.30" y1="510.60" x2="638.30" y2="510.60" stroke="#4a6fc0" stroke-width="1"/>
<rect x="626.00" y="509.20" width="3.60" height="3.60" fill="#2d5db3"/>
<rect x="633.60" y="506.80" width="3.60" height="3.60" fill="#2d5db3"/>
<rect x="641.20" y="508.30" width="3.60" height="3.60" fill="#2d5db3"/>
<line x1="627.30" y1="510.00" x2="643.30" y2="510.00" stroke="#2d4f9a" stroke-width="1.2"/>
<line x1="663.60" y1="480.40" x2="663.60" y2="498.50" stroke="#ec4048" stroke-width="1"/>
<line x1="658.80" y1="480.40" x2="668.40" y2="480.40" stroke="#ec4048" stroke-width="1"/>
<line x1="658.80" y1="498.50" x2="668.40" y2="498.50" stroke="#ec4048" stroke-width="1"/>
<path d="M663.60,439.52L665.58,442.94L661.62,442.94Z" fill="#e5202e"/>
<path d="M663.60,475.62L665.58,479.04L661.62,479.04Z" fill="#e5202e"/>
<path d="M663.60,482.12L665.58,485.54L661.62,485.54Z" fill="#e5202e"/>
<path d="M655.80,506.02L657.78,509.44L653.82,509.44Z" fill="#e5202e"/>
<path d="M661.30,502.82L663.28,506.24L659.32,506.24Z" fill="#e5202e"/>
<path d="M666.30,505.72L668.28,509.14L664.32,509.14Z" fill="#e5202e"/>
<path d="M671.60,502.82L673.58,506.24L669.62,506.24Z" fill="#e5202e"/>
<line x1="655.60" y1="489.30" x2="671.60" y2="489.30" stroke="#222" stroke-width="1.2"/>
<polyline points="634.50,437.60 634.50,433.10 664.60,433.10 664.60,437.60" fill="none" stroke="#333" stroke-width="1"/>
<text x="636.13" y="430.00" font-size="8.800" fill="#231f20" stroke="#231f20" stroke-width="0.1" >0.0167</text>
<text x="601.97" y="404.50" font-size="8.800" fill="#231f20" stroke="#231f20" stroke-width="0.1" >Tumour: CD8<tspan font-size="5.4" baseline-shift="3.4">+</tspan> T cells</text>
<text transform="translate(573.90,463.80) rotate(-90)" font-size="8.800" text-anchor="middle" fill="#231f20" stroke="#231f20" stroke-width="0.1" >Number of TNFα<tspan font-size="5.4" baseline-shift="3.4">+</tspan> CD8<tspan font-size="5.4" baseline-shift="3.4">+</tspan> T cells</text>
<text transform="translate(583.90,465.50) rotate(-90)" font-size="9.300" text-anchor="middle" fill="#231f20" stroke="#231f20" stroke-width="0.1" >(per g of tumour)</text>
<use href="#mouse" x="91.60" y="92.00"/>
<use href="#mouse" x="303.10" y="92.40"/>
<circle cx="276.90" cy="77.90" r="2.3" fill="#f29a1f" stroke="#e07f17" stroke-width="0.4"/>
<use href="#cell" transform="translate(32.40,50.90) rotate(0) scale(1.0)" style="--g:url(#gOr);--n:#f08a2a" filter="url(#soft)"/>
<use href="#syr" transform="translate(42.90,49.80) rotate(46)" style="--liq:#f0902c"/>
<use href="#cell" transform="translate(134.40,75.00) rotate(0) scale(1.0)" style="--g:url(#gBl);--n:#2a1f70" filter="url(#soft)"/>
<use href="#syr" transform="translate(108.90,81.20) rotate(45)" style="--liq:#2c2c78"/>
<use href="#mouse" x="89.80" y="291.40"/>
<use href="#mouse" x="337.20" y="291.20"/>
<circle cx="311.00" cy="276.70" r="2.3" fill="#f29a1f" stroke="#e07f17" stroke-width="0.4"/>
<use href="#cell" transform="translate(31.20,253.00) rotate(0) scale(1.0)" style="--g:url(#gOr);--n:#f08a2a" filter="url(#soft)"/>
<use href="#syr" transform="translate(42.10,251.40) rotate(46)" style="--liq:#f0902c"/>
<use href="#cell" transform="translate(147.20,279.60) rotate(0) scale(1.0)" style="--g:url(#gBl);--n:#2a1f70" filter="url(#soft)"/>
<use href="#syr" transform="translate(129.50,286.30) rotate(45)" style="--liq:#2c2c78"/>
<use href="#cell" transform="translate(315.50,249.50) rotate(60) scale(0.8)" style="--g:url(#gOr);--n:#f08a2a" filter="url(#soft)"/>
<use href="#cell" transform="translate(303.80,245.50) rotate(20) scale(0.85)" style="--g:url(#gOr);--n:#f08a2a" filter="url(#soft)"/>
<use href="#cell" transform="translate(322.00,245.50) rotate(-30) scale(0.8)" style="--g:url(#gOr);--n:#f08a2a" filter="url(#soft)"/>
<use href="#cell" transform="translate(309.00,253.50) rotate(40) scale(0.85)" style="--g:url(#gOr);--n:#f08a2a" filter="url(#soft)"/>
<use href="#cell" transform="translate(312.00,243.00) rotate(0) scale(0.9)" style="--g:url(#gOr);--n:#f08a2a" filter="url(#soft)"/>
<use href="#cell" transform="translate(320.00,253.00) rotate(-15) scale(0.9)" style="--g:url(#gOr);--n:#f08a2a" filter="url(#soft)"/>
<use href="#mouse" x="98.20" y="704.60"/>
<use href="#mouse" x="348.20" y="704.60"/>
<circle cx="322.00" cy="690.10" r="2.3" fill="#f29a1f" stroke="#e07f17" stroke-width="0.4"/>
<use href="#cell" transform="translate(28.60,657.70) rotate(0) scale(1.0)" style="--g:url(#gOr);--n:#f08a2a" filter="url(#soft)"/>
<use href="#syr" transform="translate(46.00,666.50) rotate(46)" style="--liq:#f0902c"/>
<use href="#cell" transform="translate(157.60,671.10) rotate(0) scale(1.0)" style="--g:url(#gBl);--n:#2a1f70" filter="url(#soft)"/>
<use href="#syr" transform="translate(134.90,690.50) rotate(45)" style="--liq:#2c2c78"/>
</g>
</svg></body></html>
